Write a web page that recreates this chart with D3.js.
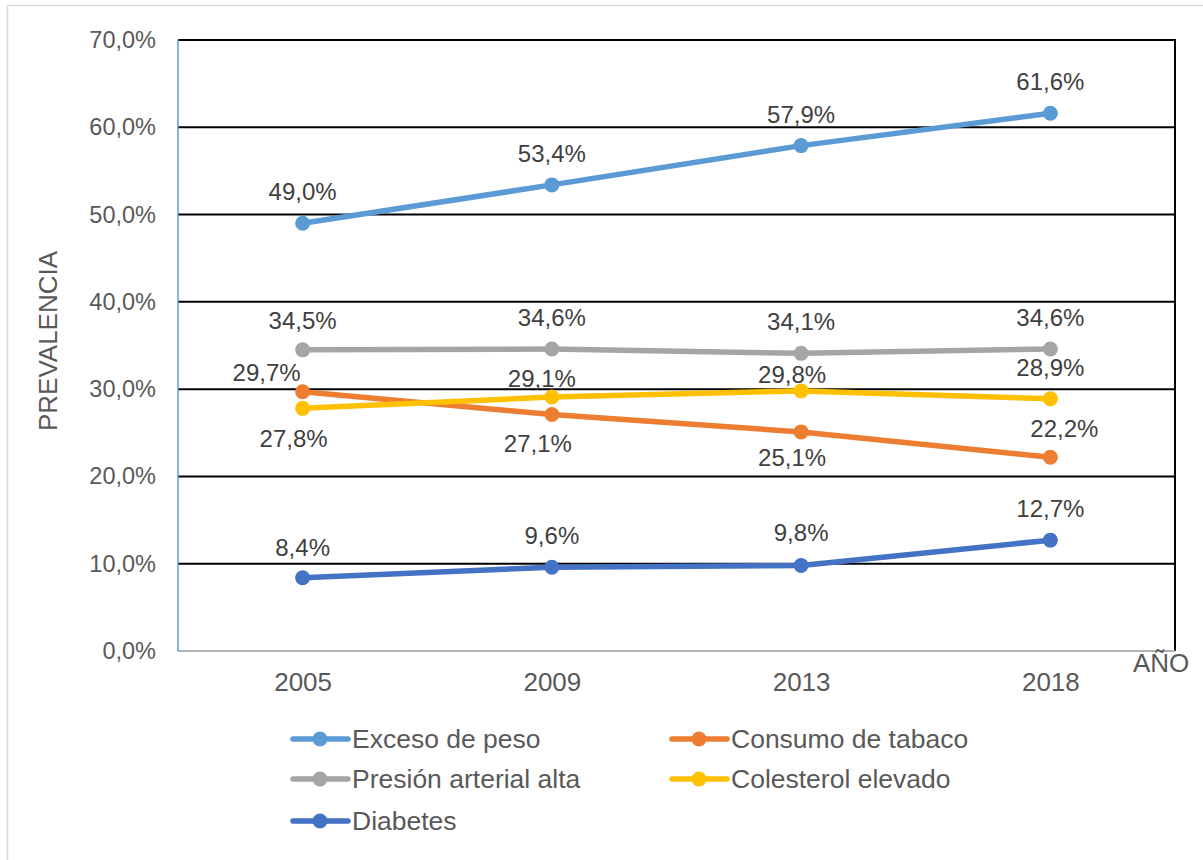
<!DOCTYPE html>
<html>
<head>
<meta charset="utf-8">
<script src="https://cdn.jsdelivr.net/npm/d3@7"></script>
<style>
  html, body { margin: 0; padding: 0; background: #ffffff; }
  svg { display: block; }
  text { font-family: "Liberation Sans", Arial, sans-serif; }
</style>
</head>
<body>
<svg id="chart" width="1203" height="860"></svg>
<script>
// Years on the x axis
const years = ["2005", "2009", "2013", "2018"];

// Prevalence (%) per year for each indicator
const excesoPeso      = [49.0, 53.4, 57.9, 61.6];
const consumoTabaco   = [29.7, 27.1, 25.1, 22.2];
const presionArterial = [34.5, 34.6, 34.1, 34.6];
const colesterol      = [27.8, 29.1, 29.8, 28.9];
const diabetes        = [8.4, 9.6, 9.8, 12.7];

// Series names as shown in the legend
const seriesNames = ["Exceso de peso", "Consumo de tabaco", "Presión arterial alta", "Colesterol elevado", "Diabetes"];

// Y axis tick values (%)
const yTicks = [0, 10, 20, 30, 40, 50, 60, 70];

// ---- styling / layout ----
const colors = ["#5B9BD5", "#ED7D31", "#A5A5A5", "#FFC000", "#4472C4"];
// data-label offsets from each point [dx, dy-to-baseline]
const labelOffsets = [
  [[0, -23], [0, -23], [0, -23], [0, -23]],
  [[-36, -11], [-14, 38], [-9, 34], [14, -20]],
  [[0, -21], [0, -23], [0, -23], [0, -23]],
  [[-9, 39], [-10, -10], [-9, -8], [0, -23]],
  [[0, -22], [0, -23], [0, -24], [0, -23]]
];
const legendPos = [
  [293, 748], [672, 748],
  [293, 788], [672, 788],
  [293, 830]
];

const values = [excesoPeso, consumoTabaco, presionArterial, colesterol, diabetes];
const series = seriesNames.map((name, i) => ({
  name, color: colors[i], offsets: labelOffsets[i],
  points: years.map((y, j) => ({ year: y, value: values[i][j] }))
}));

const svg = d3.select("#chart");
const plot = { left: 178, right: 1175, top: 40, bottom: 651 };

const x = d3.scalePoint().domain(years).range([plot.left, plot.right]).padding(0.5);
const y = d3.scaleLinear().domain([0, 70]).range([plot.bottom, plot.top]);

const pct = v => d3.format(".1f")(v).replace(".", ",") + "%";

// outer chart border
svg.append("rect")
  .attr("x", 7.5).attr("y", 5.5).attr("width", 1210).attr("height", 870)
  .attr("fill", "none").attr("stroke", "#D9D9D9").attr("stroke-width", 1.5);

// horizontal gridlines
svg.append("g").selectAll("line")
  .data(yTicks.filter(t => t > 0))
  .join("line")
  .attr("x1", plot.left).attr("x2", plot.right)
  .attr("y1", d => y(d)).attr("y2", d => y(d))
  .attr("stroke", "#000").attr("stroke-width", 2);

// right border of the plot area
svg.append("line")
  .attr("x1", plot.right).attr("x2", plot.right)
  .attr("y1", plot.top - 1).attr("y2", plot.bottom)
  .attr("stroke", "#000").attr("stroke-width", 2);

// x axis line
svg.append("line")
  .attr("x1", plot.left).attr("x2", plot.right)
  .attr("y1", y(0)).attr("y2", y(0))
  .attr("stroke", "#B4B4B4").attr("stroke-width", 2);

// y axis line
svg.append("line")
  .attr("x1", plot.left).attr("x2", plot.left)
  .attr("y1", plot.top - 1).attr("y2", plot.bottom)
  .attr("stroke", "#5B9BD5").attr("stroke-width", 1.5);

// y axis labels
const yAxis = d3.axisLeft(y).tickValues(yTicks).tickFormat(pct).tickSize(0).tickPadding(22);
const gy = svg.append("g").attr("transform", `translate(${plot.left},0)`).call(yAxis);
gy.select(".domain").remove();
gy.selectAll("text")
  .attr("fill", "#595959").style("font-size", "23.5px")
  .attr("font-family", "Liberation Sans, Arial, sans-serif");

// x axis labels
const xAxis = d3.axisBottom(x).tickSize(0).tickPadding(22);
const gx = svg.append("g").attr("transform", `translate(0,${plot.bottom})`).call(xAxis);
gx.select(".domain").remove();
gx.selectAll("text")
  .attr("fill", "#595959").style("font-size", "26px")
  .attr("font-family", "Liberation Sans, Arial, sans-serif");

// axis titles
svg.append("text")
  .attr("transform", "translate(57,341) rotate(-90)")
  .attr("text-anchor", "middle")
  .attr("fill", "#595959").style("font-size", "26px")
  .text("PREVALENCIA");

svg.append("text")
  .attr("x", 1133).attr("y", 672)
  .attr("fill", "#595959").style("font-size", "26px")
  .text("AÑO");

// lines, markers and value labels
const line = d3.line().x(d => x(d.year)).y(d => y(d.value));

const sg = svg.append("g").selectAll("g").data(series).join("g");

sg.append("path")
  .attr("d", d => line(d.points))
  .attr("fill", "none")
  .attr("stroke", d => d.color)
  .attr("stroke-width", 5.5)
  .attr("stroke-linejoin", "round")
  .attr("stroke-linecap", "round");

sg.selectAll("circle")
  .data(d => d.points.map(p => ({ ...p, color: d.color })))
  .join("circle")
  .attr("cx", d => x(d.year)).attr("cy", d => y(d.value))
  .attr("r", 7.5)
  .attr("fill", d => d.color);

sg.selectAll("text.val")
  .data(d => d.points.map((p, j) => ({ ...p, off: d.offsets[j] })))
  .join("text")
  .attr("class", "val")
  .attr("x", d => x(d.year) + d.off[0])
  .attr("y", d => y(d.value) + d.off[1])
  .attr("text-anchor", "middle")
  .attr("fill", "#404040")
  .style("font-size", "24px")
  .text(d => pct(d.value));

// legend
const lg = svg.append("g").selectAll("g")
  .data(series)
  .join("g")
  .attr("transform", (d, i) => `translate(${legendPos[i][0]},${legendPos[i][1]})`);

lg.append("line")
  .attr("x1", 0).attr("x2", 55).attr("y1", -9).attr("y2", -9)
  .attr("stroke", d => d.color).attr("stroke-width", 5.5)
  .attr("stroke-linecap", "round");

lg.append("circle")
  .attr("cx", 27).attr("cy", -9).attr("r", 7.5)
  .attr("fill", d => d.color);

lg.append("text")
  .attr("x", 59).attr("y", 0)
  .attr("fill", "#595959").style("font-size", "26.5px")
  .text(d => d.name);
</script>
</body>
</html>
